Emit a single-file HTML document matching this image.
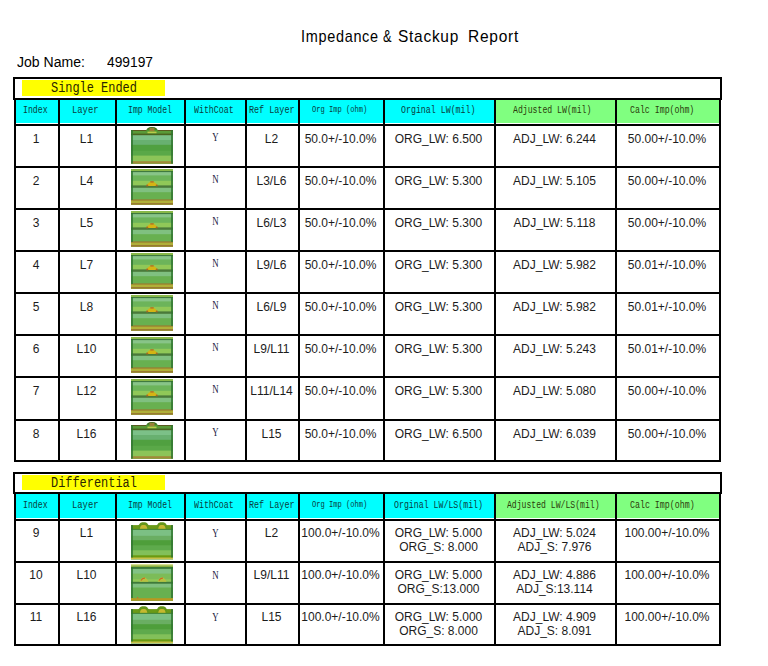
<!DOCTYPE html>
<html><head><meta charset="utf-8"><title>Impedance &amp; Stackup Report</title>
<style>
html,body{margin:0;padding:0;background:#fff;}
#pg{position:relative;width:768px;height:666px;overflow:hidden;background:#fff;}
.ln{position:absolute;}
.c{position:absolute;text-align:center;white-space:nowrap;font-family:"Liberation Sans",sans-serif;font-size:12px;line-height:14px;color:#1c1c1c;}
.yn{position:absolute;text-align:center;font-family:"Liberation Serif",serif;font-size:13px;line-height:12px;color:#202040;transform:scaleX(0.68);}
.ht{position:absolute;width:200px;text-align:center;white-space:nowrap;font-family:"Liberation Serif",serif;line-height:0;transform-origin:center;}
.lab{position:absolute;white-space:nowrap;font-family:"Liberation Serif",serif;font-size:14px;line-height:0;color:#3a3300;}
.ft{position:absolute;white-space:nowrap;line-height:20px;transform-origin:0 0;}
.title{position:absolute;white-space:nowrap;font-family:"Liberation Mono",monospace;font-size:14px;line-height:0;color:#000;}
.job{position:absolute;white-space:nowrap;font-family:"Liberation Sans",sans-serif;font-size:14px;line-height:0;color:#000;}
</style></head><body><div id="pg">
<div class="ln" style="left:13px;top:77px;width:709px;height:2px;background:#000"></div>
<div class="ln" style="left:13px;top:77px;width:2px;height:23px;background:#000"></div>
<div class="ln" style="left:720px;top:77px;width:2px;height:23px;background:#000"></div>
<div class="ln" style="left:22px;top:80px;width:143px;height:16px;background:#ffff00"></div>
<div class="ln" style="left:16px;top:100px;width:42px;height:23px;background:#00ffff"></div>
<div class="ln" style="left:60px;top:100px;width:55px;height:23px;background:#00ffff"></div>
<div class="ln" style="left:117px;top:100px;width:67px;height:23px;background:#00ffff"></div>
<div class="ln" style="left:186px;top:100px;width:59px;height:23px;background:#00ffff"></div>
<div class="ln" style="left:247px;top:100px;width:51px;height:23px;background:#00ffff"></div>
<div class="ln" style="left:300px;top:100px;width:83px;height:23px;background:#00ffff"></div>
<div class="ln" style="left:385px;top:100px;width:109px;height:23px;background:#00ffff"></div>
<div class="ln" style="left:496px;top:100px;width:119px;height:23px;background:#80ff80"></div>
<div class="ln" style="left:617px;top:100px;width:102px;height:23px;background:#80ff80"></div>
<div class="ln" style="left:14px;top:98px;width:707px;height:2px;background:#000"></div>
<div class="ln" style="left:14px;top:124px;width:707px;height:2px;background:#000"></div>
<div class="ln" style="left:14px;top:166px;width:707px;height:2px;background:#000"></div>
<div class="ln" style="left:14px;top:208px;width:707px;height:2px;background:#000"></div>
<div class="ln" style="left:14px;top:250px;width:707px;height:2px;background:#000"></div>
<div class="ln" style="left:14px;top:292px;width:707px;height:2px;background:#000"></div>
<div class="ln" style="left:14px;top:334px;width:707px;height:2px;background:#000"></div>
<div class="ln" style="left:14px;top:376px;width:707px;height:2px;background:#000"></div>
<div class="ln" style="left:14px;top:419px;width:707px;height:2px;background:#000"></div>
<div class="ln" style="left:14px;top:460px;width:707px;height:2px;background:#000"></div>
<div class="ln" style="left:14px;top:98px;width:2px;height:364px;background:#000"></div>
<div class="ln" style="left:58px;top:98px;width:2px;height:364px;background:#000"></div>
<div class="ln" style="left:115px;top:98px;width:2px;height:364px;background:#000"></div>
<div class="ln" style="left:184px;top:98px;width:2px;height:364px;background:#000"></div>
<div class="ln" style="left:245px;top:98px;width:2px;height:364px;background:#000"></div>
<div class="ln" style="left:298px;top:98px;width:2px;height:364px;background:#000"></div>
<div class="ln" style="left:383px;top:98px;width:2px;height:364px;background:#000"></div>
<div class="ln" style="left:494px;top:98px;width:2px;height:364px;background:#000"></div>
<div class="ln" style="left:615px;top:98px;width:2px;height:364px;background:#000"></div>
<div class="ln" style="left:719px;top:98px;width:2px;height:364px;background:#000"></div>
<div class="c" style="left:-5px;width:82px;top:132.04px">1</div>
<div class="c" style="left:39px;width:95px;top:132.04px">L1</div>
<div class="c" style="left:226px;width:91px;top:132.04px">L2</div>
<div class="c" style="left:279px;width:123px;top:132.04px">50.0+/-10.0%</div>
<div class="c" style="left:364px;width:149px;top:132.04px">ORG_LW: 6.500</div>
<div class="c" style="left:475px;width:159px;top:132.04px">ADJ_LW: 6.244</div>
<div class="c" style="left:596px;width:142px;top:132.04px">50.00+/-10.0%</div>
<div class="yn" style="left:186px;width:59px;top:131.20px">Y</div>
<div class="ln" style="left:131px;top:127px"><svg width="42" height="38" viewBox="0 0 42 38" style="display:block"><rect x="0" y="3" width="42" height="33.6" fill="#5a5a20"/><rect x="0" y="4" width="42" height="32.6" fill="#5a9a38"/><rect x="0" y="6.6" width="42" height="30.0" fill="#4a6420"/><rect x="0" y="8.2" width="42" height="28.400000000000002" fill="#7cc088"/><rect x="0" y="13" width="42" height="23.6" fill="#68b070"/><rect x="0" y="17.8" width="42" height="18.8" fill="#50a040"/><rect x="0" y="23.8" width="42" height="12.8" fill="#5aa848"/><rect x="0" y="28.6" width="42" height="8.0" fill="#8cc458"/><rect x="0" y="34.2" width="42" height="2.3999999999999986" fill="#a08a38"/><rect x="0" y="3" width="2" height="33.6" fill="#2f742f" opacity="0.8"/><rect x="40" y="3" width="2" height="33.6" fill="#2f742f" opacity="0.8"/><path d="M15 4.5 Q15.5 0 21 0 Q26.5 0 27 4.5 Z" fill="#4e9a30"/><path d="M15.6 2.5 Q17 0 21 0 Q25 0 26.4 2.5 Z" fill="#3a5a20" opacity="0.7"/><rect x="18.5" y="0.8" width="5" height="3.6" fill="#9a8038"/><rect x="16.5" y="4.6" width="9" height="1.6" fill="#b8cc48"/></svg></div>
<div class="c" style="left:-5px;width:82px;top:174.04px">2</div>
<div class="c" style="left:39px;width:95px;top:174.04px">L4</div>
<div class="c" style="left:226px;width:91px;top:174.04px">L3/L6</div>
<div class="c" style="left:279px;width:123px;top:174.04px">50.0+/-10.0%</div>
<div class="c" style="left:364px;width:149px;top:174.04px">ORG_LW: 5.300</div>
<div class="c" style="left:475px;width:159px;top:174.04px">ADJ_LW: 5.105</div>
<div class="c" style="left:596px;width:142px;top:174.04px">50.00+/-10.0%</div>
<div class="yn" style="left:186px;width:59px;top:173.20px">N</div>
<div class="ln" style="left:131px;top:169px"><svg width="42" height="38" viewBox="0 0 42 38" style="display:block"><rect x="0" y="0" width="42" height="35.5" fill="#88b848"/><rect x="0" y="2" width="42" height="33.5" fill="#3f7a3f"/><rect x="0" y="3.1" width="42" height="32.4" fill="#88c488"/><rect x="0" y="6.4" width="42" height="29.1" fill="#6cb45a"/><rect x="0" y="11.8" width="42" height="23.7" fill="#90c858"/><rect x="0" y="16.4" width="42" height="19.1" fill="#4a7a3a"/><rect x="0" y="18.8" width="42" height="16.7" fill="#80c080"/><rect x="0" y="23.2" width="42" height="12.3" fill="#68b050"/><rect x="0" y="30.4" width="42" height="5.100000000000001" fill="#9a7a30"/><rect x="0" y="31.6" width="42" height="3.8999999999999986" fill="#b0b038"/><rect x="0" y="34" width="42" height="1.5" fill="#9a7a30"/><rect x="0" y="2" width="2" height="29" fill="#2f742f" opacity="0.8"/><rect x="40" y="2" width="2" height="29" fill="#2f742f" opacity="0.8"/><path d="M15.3 17 Q17 13.2 21 12.6 Q25 13.2 26.7 17 Z" fill="#d4b414"/><ellipse cx="16.2" cy="16.4" rx="1.1" ry="1" fill="#a06a28"/><ellipse cx="25.8" cy="16.4" rx="1.1" ry="1" fill="#a06a28"/><ellipse cx="21" cy="12.9" rx="2.2" ry="0.8" fill="#b07a28"/></svg></div>
<div class="c" style="left:-5px;width:82px;top:216.04px">3</div>
<div class="c" style="left:39px;width:95px;top:216.04px">L5</div>
<div class="c" style="left:226px;width:91px;top:216.04px">L6/L3</div>
<div class="c" style="left:279px;width:123px;top:216.04px">50.0+/-10.0%</div>
<div class="c" style="left:364px;width:149px;top:216.04px">ORG_LW: 5.300</div>
<div class="c" style="left:475px;width:159px;top:216.04px">ADJ_LW: 5.118</div>
<div class="c" style="left:596px;width:142px;top:216.04px">50.00+/-10.0%</div>
<div class="yn" style="left:186px;width:59px;top:215.20px">N</div>
<div class="ln" style="left:131px;top:211px"><svg width="42" height="38" viewBox="0 0 42 38" style="display:block"><rect x="0" y="0" width="42" height="35.5" fill="#88b848"/><rect x="0" y="2" width="42" height="33.5" fill="#3f7a3f"/><rect x="0" y="3.1" width="42" height="32.4" fill="#88c488"/><rect x="0" y="6.4" width="42" height="29.1" fill="#6cb45a"/><rect x="0" y="11.8" width="42" height="23.7" fill="#90c858"/><rect x="0" y="16.4" width="42" height="19.1" fill="#4a7a3a"/><rect x="0" y="18.8" width="42" height="16.7" fill="#80c080"/><rect x="0" y="23.2" width="42" height="12.3" fill="#68b050"/><rect x="0" y="30.4" width="42" height="5.100000000000001" fill="#9a7a30"/><rect x="0" y="31.6" width="42" height="3.8999999999999986" fill="#b0b038"/><rect x="0" y="34" width="42" height="1.5" fill="#9a7a30"/><rect x="0" y="2" width="2" height="29" fill="#2f742f" opacity="0.8"/><rect x="40" y="2" width="2" height="29" fill="#2f742f" opacity="0.8"/><path d="M15.3 17 Q17 13.2 21 12.6 Q25 13.2 26.7 17 Z" fill="#d4b414"/><ellipse cx="16.2" cy="16.4" rx="1.1" ry="1" fill="#a06a28"/><ellipse cx="25.8" cy="16.4" rx="1.1" ry="1" fill="#a06a28"/><ellipse cx="21" cy="12.9" rx="2.2" ry="0.8" fill="#b07a28"/></svg></div>
<div class="c" style="left:-5px;width:82px;top:258.04px">4</div>
<div class="c" style="left:39px;width:95px;top:258.04px">L7</div>
<div class="c" style="left:226px;width:91px;top:258.04px">L9/L6</div>
<div class="c" style="left:279px;width:123px;top:258.04px">50.0+/-10.0%</div>
<div class="c" style="left:364px;width:149px;top:258.04px">ORG_LW: 5.300</div>
<div class="c" style="left:475px;width:159px;top:258.04px">ADJ_LW: 5.982</div>
<div class="c" style="left:596px;width:142px;top:258.04px">50.01+/-10.0%</div>
<div class="yn" style="left:186px;width:59px;top:257.20px">N</div>
<div class="ln" style="left:131px;top:253px"><svg width="42" height="38" viewBox="0 0 42 38" style="display:block"><rect x="0" y="0" width="42" height="35.5" fill="#88b848"/><rect x="0" y="2" width="42" height="33.5" fill="#3f7a3f"/><rect x="0" y="3.1" width="42" height="32.4" fill="#88c488"/><rect x="0" y="6.4" width="42" height="29.1" fill="#6cb45a"/><rect x="0" y="11.8" width="42" height="23.7" fill="#90c858"/><rect x="0" y="16.4" width="42" height="19.1" fill="#4a7a3a"/><rect x="0" y="18.8" width="42" height="16.7" fill="#80c080"/><rect x="0" y="23.2" width="42" height="12.3" fill="#68b050"/><rect x="0" y="30.4" width="42" height="5.100000000000001" fill="#9a7a30"/><rect x="0" y="31.6" width="42" height="3.8999999999999986" fill="#b0b038"/><rect x="0" y="34" width="42" height="1.5" fill="#9a7a30"/><rect x="0" y="2" width="2" height="29" fill="#2f742f" opacity="0.8"/><rect x="40" y="2" width="2" height="29" fill="#2f742f" opacity="0.8"/><path d="M15.3 17 Q17 13.2 21 12.6 Q25 13.2 26.7 17 Z" fill="#d4b414"/><ellipse cx="16.2" cy="16.4" rx="1.1" ry="1" fill="#a06a28"/><ellipse cx="25.8" cy="16.4" rx="1.1" ry="1" fill="#a06a28"/><ellipse cx="21" cy="12.9" rx="2.2" ry="0.8" fill="#b07a28"/></svg></div>
<div class="c" style="left:-5px;width:82px;top:300.04px">5</div>
<div class="c" style="left:39px;width:95px;top:300.04px">L8</div>
<div class="c" style="left:226px;width:91px;top:300.04px">L6/L9</div>
<div class="c" style="left:279px;width:123px;top:300.04px">50.0+/-10.0%</div>
<div class="c" style="left:364px;width:149px;top:300.04px">ORG_LW: 5.300</div>
<div class="c" style="left:475px;width:159px;top:300.04px">ADJ_LW: 5.982</div>
<div class="c" style="left:596px;width:142px;top:300.04px">50.01+/-10.0%</div>
<div class="yn" style="left:186px;width:59px;top:299.20px">N</div>
<div class="ln" style="left:131px;top:295px"><svg width="42" height="38" viewBox="0 0 42 38" style="display:block"><rect x="0" y="0" width="42" height="35.5" fill="#88b848"/><rect x="0" y="2" width="42" height="33.5" fill="#3f7a3f"/><rect x="0" y="3.1" width="42" height="32.4" fill="#88c488"/><rect x="0" y="6.4" width="42" height="29.1" fill="#6cb45a"/><rect x="0" y="11.8" width="42" height="23.7" fill="#90c858"/><rect x="0" y="16.4" width="42" height="19.1" fill="#4a7a3a"/><rect x="0" y="18.8" width="42" height="16.7" fill="#80c080"/><rect x="0" y="23.2" width="42" height="12.3" fill="#68b050"/><rect x="0" y="30.4" width="42" height="5.100000000000001" fill="#9a7a30"/><rect x="0" y="31.6" width="42" height="3.8999999999999986" fill="#b0b038"/><rect x="0" y="34" width="42" height="1.5" fill="#9a7a30"/><rect x="0" y="2" width="2" height="29" fill="#2f742f" opacity="0.8"/><rect x="40" y="2" width="2" height="29" fill="#2f742f" opacity="0.8"/><path d="M15.3 17 Q17 13.2 21 12.6 Q25 13.2 26.7 17 Z" fill="#d4b414"/><ellipse cx="16.2" cy="16.4" rx="1.1" ry="1" fill="#a06a28"/><ellipse cx="25.8" cy="16.4" rx="1.1" ry="1" fill="#a06a28"/><ellipse cx="21" cy="12.9" rx="2.2" ry="0.8" fill="#b07a28"/></svg></div>
<div class="c" style="left:-5px;width:82px;top:342.04px">6</div>
<div class="c" style="left:39px;width:95px;top:342.04px">L10</div>
<div class="c" style="left:226px;width:91px;top:342.04px">L9/L11</div>
<div class="c" style="left:279px;width:123px;top:342.04px">50.0+/-10.0%</div>
<div class="c" style="left:364px;width:149px;top:342.04px">ORG_LW: 5.300</div>
<div class="c" style="left:475px;width:159px;top:342.04px">ADJ_LW: 5.243</div>
<div class="c" style="left:596px;width:142px;top:342.04px">50.01+/-10.0%</div>
<div class="yn" style="left:186px;width:59px;top:341.20px">N</div>
<div class="ln" style="left:131px;top:337px"><svg width="42" height="38" viewBox="0 0 42 38" style="display:block"><rect x="0" y="0" width="42" height="35.5" fill="#88b848"/><rect x="0" y="2" width="42" height="33.5" fill="#3f7a3f"/><rect x="0" y="3.1" width="42" height="32.4" fill="#88c488"/><rect x="0" y="6.4" width="42" height="29.1" fill="#6cb45a"/><rect x="0" y="11.8" width="42" height="23.7" fill="#90c858"/><rect x="0" y="16.4" width="42" height="19.1" fill="#4a7a3a"/><rect x="0" y="18.8" width="42" height="16.7" fill="#80c080"/><rect x="0" y="23.2" width="42" height="12.3" fill="#68b050"/><rect x="0" y="30.4" width="42" height="5.100000000000001" fill="#9a7a30"/><rect x="0" y="31.6" width="42" height="3.8999999999999986" fill="#b0b038"/><rect x="0" y="34" width="42" height="1.5" fill="#9a7a30"/><rect x="0" y="2" width="2" height="29" fill="#2f742f" opacity="0.8"/><rect x="40" y="2" width="2" height="29" fill="#2f742f" opacity="0.8"/><path d="M15.3 17 Q17 13.2 21 12.6 Q25 13.2 26.7 17 Z" fill="#d4b414"/><ellipse cx="16.2" cy="16.4" rx="1.1" ry="1" fill="#a06a28"/><ellipse cx="25.8" cy="16.4" rx="1.1" ry="1" fill="#a06a28"/><ellipse cx="21" cy="12.9" rx="2.2" ry="0.8" fill="#b07a28"/></svg></div>
<div class="c" style="left:-5px;width:82px;top:384.04px">7</div>
<div class="c" style="left:39px;width:95px;top:384.04px">L12</div>
<div class="c" style="left:226px;width:91px;top:384.04px">L11/L14</div>
<div class="c" style="left:279px;width:123px;top:384.04px">50.0+/-10.0%</div>
<div class="c" style="left:364px;width:149px;top:384.04px">ORG_LW: 5.300</div>
<div class="c" style="left:475px;width:159px;top:384.04px">ADJ_LW: 5.080</div>
<div class="c" style="left:596px;width:142px;top:384.04px">50.00+/-10.0%</div>
<div class="yn" style="left:186px;width:59px;top:383.20px">N</div>
<div class="ln" style="left:131px;top:379px"><svg width="42" height="38" viewBox="0 0 42 38" style="display:block"><rect x="0" y="0" width="42" height="35.5" fill="#88b848"/><rect x="0" y="2" width="42" height="33.5" fill="#3f7a3f"/><rect x="0" y="3.1" width="42" height="32.4" fill="#88c488"/><rect x="0" y="6.4" width="42" height="29.1" fill="#6cb45a"/><rect x="0" y="11.8" width="42" height="23.7" fill="#90c858"/><rect x="0" y="16.4" width="42" height="19.1" fill="#4a7a3a"/><rect x="0" y="18.8" width="42" height="16.7" fill="#80c080"/><rect x="0" y="23.2" width="42" height="12.3" fill="#68b050"/><rect x="0" y="30.4" width="42" height="5.100000000000001" fill="#9a7a30"/><rect x="0" y="31.6" width="42" height="3.8999999999999986" fill="#b0b038"/><rect x="0" y="34" width="42" height="1.5" fill="#9a7a30"/><rect x="0" y="2" width="2" height="29" fill="#2f742f" opacity="0.8"/><rect x="40" y="2" width="2" height="29" fill="#2f742f" opacity="0.8"/><path d="M15.3 17 Q17 13.2 21 12.6 Q25 13.2 26.7 17 Z" fill="#d4b414"/><ellipse cx="16.2" cy="16.4" rx="1.1" ry="1" fill="#a06a28"/><ellipse cx="25.8" cy="16.4" rx="1.1" ry="1" fill="#a06a28"/><ellipse cx="21" cy="12.9" rx="2.2" ry="0.8" fill="#b07a28"/></svg></div>
<div class="c" style="left:-5px;width:82px;top:427.04px">8</div>
<div class="c" style="left:39px;width:95px;top:427.04px">L16</div>
<div class="c" style="left:226px;width:91px;top:427.04px">L15</div>
<div class="c" style="left:279px;width:123px;top:427.04px">50.0+/-10.0%</div>
<div class="c" style="left:364px;width:149px;top:427.04px">ORG_LW: 6.500</div>
<div class="c" style="left:475px;width:159px;top:427.04px">ADJ_LW: 6.039</div>
<div class="c" style="left:596px;width:142px;top:427.04px">50.00+/-10.0%</div>
<div class="yn" style="left:186px;width:59px;top:426.20px">Y</div>
<div class="ln" style="left:131px;top:422px"><svg width="42" height="38" viewBox="0 0 42 38" style="display:block"><rect x="0" y="3" width="42" height="33.6" fill="#5a5a20"/><rect x="0" y="4" width="42" height="32.6" fill="#5a9a38"/><rect x="0" y="6.6" width="42" height="30.0" fill="#4a6420"/><rect x="0" y="8.2" width="42" height="28.400000000000002" fill="#7cc088"/><rect x="0" y="13" width="42" height="23.6" fill="#68b070"/><rect x="0" y="17.8" width="42" height="18.8" fill="#50a040"/><rect x="0" y="23.8" width="42" height="12.8" fill="#5aa848"/><rect x="0" y="28.6" width="42" height="8.0" fill="#8cc458"/><rect x="0" y="34.2" width="42" height="2.3999999999999986" fill="#a08a38"/><rect x="0" y="3" width="2" height="33.6" fill="#2f742f" opacity="0.8"/><rect x="40" y="3" width="2" height="33.6" fill="#2f742f" opacity="0.8"/><path d="M15 4.5 Q15.5 0 21 0 Q26.5 0 27 4.5 Z" fill="#4e9a30"/><path d="M15.6 2.5 Q17 0 21 0 Q25 0 26.4 2.5 Z" fill="#3a5a20" opacity="0.7"/><rect x="18.5" y="0.8" width="5" height="3.6" fill="#9a8038"/><rect x="16.5" y="4.6" width="9" height="1.6" fill="#b8cc48"/></svg></div>
<div class="ln" style="left:13px;top:472px;width:709px;height:2px;background:#000"></div>
<div class="ln" style="left:13px;top:472px;width:2px;height:22px;background:#000"></div>
<div class="ln" style="left:720px;top:472px;width:2px;height:22px;background:#000"></div>
<div class="ln" style="left:22px;top:475px;width:143px;height:15px;background:#ffff00"></div>
<div class="ln" style="left:16px;top:494px;width:42px;height:24px;background:#00ffff"></div>
<div class="ln" style="left:60px;top:494px;width:55px;height:24px;background:#00ffff"></div>
<div class="ln" style="left:117px;top:494px;width:67px;height:24px;background:#00ffff"></div>
<div class="ln" style="left:186px;top:494px;width:59px;height:24px;background:#00ffff"></div>
<div class="ln" style="left:247px;top:494px;width:51px;height:24px;background:#00ffff"></div>
<div class="ln" style="left:300px;top:494px;width:83px;height:24px;background:#00ffff"></div>
<div class="ln" style="left:385px;top:494px;width:109px;height:24px;background:#00ffff"></div>
<div class="ln" style="left:496px;top:494px;width:119px;height:24px;background:#80ff80"></div>
<div class="ln" style="left:617px;top:494px;width:102px;height:24px;background:#80ff80"></div>
<div class="ln" style="left:14px;top:492px;width:707px;height:2px;background:#000"></div>
<div class="ln" style="left:14px;top:519px;width:707px;height:2px;background:#000"></div>
<div class="ln" style="left:14px;top:561px;width:707px;height:2px;background:#000"></div>
<div class="ln" style="left:14px;top:603px;width:707px;height:2px;background:#000"></div>
<div class="ln" style="left:14px;top:644px;width:707px;height:2px;background:#000"></div>
<div class="ln" style="left:14px;top:492px;width:2px;height:154px;background:#000"></div>
<div class="ln" style="left:58px;top:492px;width:2px;height:154px;background:#000"></div>
<div class="ln" style="left:115px;top:492px;width:2px;height:154px;background:#000"></div>
<div class="ln" style="left:184px;top:492px;width:2px;height:154px;background:#000"></div>
<div class="ln" style="left:245px;top:492px;width:2px;height:154px;background:#000"></div>
<div class="ln" style="left:298px;top:492px;width:2px;height:154px;background:#000"></div>
<div class="ln" style="left:383px;top:492px;width:2px;height:154px;background:#000"></div>
<div class="ln" style="left:494px;top:492px;width:2px;height:154px;background:#000"></div>
<div class="ln" style="left:615px;top:492px;width:2px;height:154px;background:#000"></div>
<div class="ln" style="left:719px;top:492px;width:2px;height:154px;background:#000"></div>
<div class="c" style="left:-5px;width:82px;top:526.04px">9</div>
<div class="c" style="left:39px;width:95px;top:526.04px">L1</div>
<div class="c" style="left:226px;width:91px;top:526.04px">L2</div>
<div class="c" style="left:279px;width:123px;top:526.04px">100.0+/-10.0%</div>
<div class="c" style="left:364px;width:149px;top:526.04px">ORG_LW: 5.000<br>ORG_S: 8.000</div>
<div class="c" style="left:475px;width:159px;top:526.04px">ADJ_LW: 5.024<br>ADJ_S: 7.976</div>
<div class="c" style="left:596px;width:142px;top:526.04px">100.00+/-10.0%</div>
<div class="yn" style="left:186px;width:59px;top:527.20px">Y</div>
<div class="ln" style="left:131px;top:522px"><svg width="42" height="38" viewBox="0 0 42 38" style="display:block"><rect x="0" y="3.1" width="42" height="34.0" fill="#6a9a18"/><rect x="0" y="6.9" width="42" height="30.200000000000003" fill="#3a7a2a"/><rect x="0" y="7.8" width="42" height="29.3" fill="#7cc084"/><rect x="0" y="13.8" width="42" height="23.3" fill="#6aae62"/><rect x="0" y="18.2" width="42" height="18.900000000000002" fill="#4e9e3a"/><rect x="0" y="23.3" width="42" height="13.8" fill="#5eaa4c"/><rect x="0" y="28.3" width="42" height="8.8" fill="#82c05a"/><rect x="0" y="33.3" width="42" height="3.8000000000000043" fill="#6a9a10"/><rect x="0" y="35.5" width="42" height="1.6000000000000014" fill="#c8c048"/><rect x="0" y="3.1" width="2" height="32.4" fill="#2f742f" opacity="0.8"/><rect x="40" y="3.1" width="2" height="32.4" fill="#2f742f" opacity="0.8"/><path d="M7.6 7 L7.6 3.2 Q9.1 0.2 11.1 0.2 L14.1 0.2 Q16.1 0.2 17.6 3.2 L17.6 7 Z" fill="#64961a"/><path d="M8.9 6.8 Q9.4 3 11.6 3 L13.6 3 Q15.799999999999999 3 16.299999999999997 6.8 Z" fill="#c4b830"/><path d="M25.9 7 L25.9 3.2 Q27.4 0.2 29.4 0.2 L32.4 0.2 Q34.4 0.2 35.9 3.2 L35.9 7 Z" fill="#64961a"/><path d="M27.2 6.8 Q27.7 3 29.9 3 L31.9 3 Q34.099999999999994 3 34.599999999999994 6.8 Z" fill="#c4b830"/></svg></div>
<div class="c" style="left:-5px;width:82px;top:568.04px">10</div>
<div class="c" style="left:39px;width:95px;top:568.04px">L10</div>
<div class="c" style="left:226px;width:91px;top:568.04px">L9/L11</div>
<div class="c" style="left:279px;width:123px;top:568.04px">100.0+/-10.0%</div>
<div class="c" style="left:364px;width:149px;top:568.04px">ORG_LW: 5.000<br>ORG_S:13.000</div>
<div class="c" style="left:475px;width:159px;top:568.04px">ADJ_LW: 4.886<br>ADJ_S:13.114</div>
<div class="c" style="left:596px;width:142px;top:568.04px">100.00+/-10.0%</div>
<div class="yn" style="left:186px;width:59px;top:569.20px">N</div>
<div class="ln" style="left:131px;top:564px"><svg width="42" height="38" viewBox="0 0 42 38" style="display:block"><rect x="0" y="0" width="42" height="36.7" fill="#d8e090"/><rect x="0" y="1.4" width="42" height="35.300000000000004" fill="#8ab040"/><rect x="0" y="3" width="42" height="33.7" fill="#3a7a3a"/><rect x="0" y="4.9" width="42" height="31.800000000000004" fill="#82c284"/><rect x="0" y="9.6" width="42" height="27.1" fill="#7cbc58"/><rect x="0" y="15.3" width="42" height="21.400000000000002" fill="#90c858"/><rect x="0" y="17.8" width="42" height="18.900000000000002" fill="#3f7a3a"/><rect x="0" y="19.7" width="42" height="17.000000000000004" fill="#80c080"/><rect x="0" y="23.5" width="42" height="13.200000000000003" fill="#68b050"/><rect x="0" y="34.2" width="42" height="2.5" fill="#b89820"/><rect x="0" y="3" width="2" height="31" fill="#2f742f" opacity="0.8"/><rect x="40" y="3" width="2" height="31" fill="#2f742f" opacity="0.8"/><path d="M8.5 17.8 Q10.0 13.8 13.0 13.6 Q16.0 13.8 17.5 17.8 Z" fill="#b8c040"/><path d="M10.0 16.5 Q11.5 13.8 14.0 14.2" fill="none" stroke="#c86a20" stroke-width="1.1"/><path d="M26.5 17.8 Q28.0 13.8 31.0 13.6 Q34.0 13.8 35.5 17.8 Z" fill="#b8c040"/><path d="M28.0 16.5 Q29.5 13.8 32.0 14.2" fill="none" stroke="#c86a20" stroke-width="1.1"/><rect x="6" y="33" width="1.2" height="1.2" fill="#c07030"/></svg></div>
<div class="c" style="left:-5px;width:82px;top:610.04px">11</div>
<div class="c" style="left:39px;width:95px;top:610.04px">L16</div>
<div class="c" style="left:226px;width:91px;top:610.04px">L15</div>
<div class="c" style="left:279px;width:123px;top:610.04px">100.0+/-10.0%</div>
<div class="c" style="left:364px;width:149px;top:610.04px">ORG_LW: 5.000<br>ORG_S: 8.000</div>
<div class="c" style="left:475px;width:159px;top:610.04px">ADJ_LW: 4.909<br>ADJ_S: 8.091</div>
<div class="c" style="left:596px;width:142px;top:610.04px">100.00+/-10.0%</div>
<div class="yn" style="left:186px;width:59px;top:611.20px">Y</div>
<div class="ln" style="left:131px;top:606px"><svg width="42" height="38" viewBox="0 0 42 38" style="display:block"><rect x="0" y="3.1" width="42" height="34.0" fill="#6a9a18"/><rect x="0" y="6.9" width="42" height="30.200000000000003" fill="#3a7a2a"/><rect x="0" y="7.8" width="42" height="29.3" fill="#7cc084"/><rect x="0" y="13.8" width="42" height="23.3" fill="#6aae62"/><rect x="0" y="18.2" width="42" height="18.900000000000002" fill="#4e9e3a"/><rect x="0" y="23.3" width="42" height="13.8" fill="#5eaa4c"/><rect x="0" y="28.3" width="42" height="8.8" fill="#82c05a"/><rect x="0" y="33.3" width="42" height="3.8000000000000043" fill="#6a9a10"/><rect x="0" y="35.5" width="42" height="1.6000000000000014" fill="#c8c048"/><rect x="0" y="3.1" width="2" height="32.4" fill="#2f742f" opacity="0.8"/><rect x="40" y="3.1" width="2" height="32.4" fill="#2f742f" opacity="0.8"/><path d="M7.6 7 L7.6 3.2 Q9.1 0.2 11.1 0.2 L14.1 0.2 Q16.1 0.2 17.6 3.2 L17.6 7 Z" fill="#64961a"/><path d="M8.9 6.8 Q9.4 3 11.6 3 L13.6 3 Q15.799999999999999 3 16.299999999999997 6.8 Z" fill="#c4b830"/><path d="M25.9 7 L25.9 3.2 Q27.4 0.2 29.4 0.2 L32.4 0.2 Q34.4 0.2 35.9 3.2 L35.9 7 Z" fill="#64961a"/><path d="M27.2 6.8 Q27.7 3 29.9 3 L31.9 3 Q34.099999999999994 3 34.599999999999994 6.8 Z" fill="#c4b830"/></svg></div>
<div class="ft" style="left:300.62px;top:26.00px;transform:scaleX(0.8808);font-family:'Liberation Sans',sans-serif;font-size:16.4px;letter-spacing:0.8px;color:#000">Impedance</div>
<div class="ft" style="left:382.72px;top:26.00px;transform:scaleX(0.7800);font-family:'Liberation Sans',sans-serif;font-size:16.4px;letter-spacing:0.8px;color:#000">&amp;</div>
<div class="ft" style="left:398.06px;top:26.00px;transform:scaleX(0.9413);font-family:'Liberation Sans',sans-serif;font-size:16.4px;letter-spacing:0.8px;color:#000">Stackup</div>
<div class="ft" style="left:467.55px;top:26.00px;transform:scaleX(0.9462);font-family:'Liberation Sans',sans-serif;font-size:16.4px;letter-spacing:0.8px;color:#000">Report</div>
<div class="ft" style="left:16.90px;top:51.80px;transform:scaleX(1.0030);font-family:'Liberation Sans',sans-serif;font-size:14px;color:#000">Job Name:</div>
<div class="ft" style="left:107.30px;top:51.60px;transform:scaleX(0.9848);font-family:'Liberation Sans',sans-serif;font-size:14px;color:#000">499197</div>
<div class="ft" style="left:50.65px;top:78.00px;transform:scaleX(0.8515);font-family:'Liberation Mono',monospace;font-size:14px;color:#2a2600">Single Ended</div>
<div class="ft" style="left:50.65px;top:472.80px;transform:scaleX(0.8515);font-family:'Liberation Mono',monospace;font-size:14px;color:#2a2600">Differential</div>
<div class="ft" style="left:23.15px;top:99.70px;transform:scaleX(0.7452);font-family:'Liberation Mono',monospace;font-size:11px;color:#0a3c3c">Index</div>
<div class="ft" style="left:72.30px;top:99.70px;transform:scaleX(0.8032);font-family:'Liberation Mono',monospace;font-size:11px;color:#0a3c3c">Layer</div>
<div class="ft" style="left:128.01px;top:99.70px;transform:scaleX(0.7388);font-family:'Liberation Mono',monospace;font-size:11px;color:#0a3c3c">Imp Model</div>
<div class="ft" style="left:194.25px;top:99.70px;transform:scaleX(0.7500);font-family:'Liberation Mono',monospace;font-size:11px;color:#0a3c3c">WithCoat</div>
<div class="ft" style="left:248.63px;top:99.70px;transform:scaleX(0.7667);font-family:'Liberation Mono',monospace;font-size:11px;color:#0a3c3c">Ref Layer</div>
<div class="ft" style="left:312.45px;top:99.90px;transform:scaleX(0.7472);font-family:'Liberation Mono',monospace;font-size:9.5px;color:#0a3c3c">Org Imp (ohm)</div>
<div class="ft" style="left:401.25px;top:99.70px;transform:scaleX(0.7521);font-family:'Liberation Mono',monospace;font-size:11px;color:#0a3c3c">Orginal LW(mil)</div>
<div class="ft" style="left:513.30px;top:99.70px;transform:scaleX(0.7423);font-family:'Liberation Mono',monospace;font-size:11px;color:#2c3c0c">Adjusted LW(mil)</div>
<div class="ft" style="left:630.15px;top:99.70px;transform:scaleX(0.7494);font-family:'Liberation Mono',monospace;font-size:11px;color:#2c3c0c">Calc Imp(ohm)</div>
<div class="ft" style="left:23.15px;top:495.00px;transform:scaleX(0.7452);font-family:'Liberation Mono',monospace;font-size:11px;color:#0a3c3c">Index</div>
<div class="ft" style="left:72.30px;top:495.00px;transform:scaleX(0.8032);font-family:'Liberation Mono',monospace;font-size:11px;color:#0a3c3c">Layer</div>
<div class="ft" style="left:128.01px;top:495.00px;transform:scaleX(0.7388);font-family:'Liberation Mono',monospace;font-size:11px;color:#0a3c3c">Imp Model</div>
<div class="ft" style="left:194.25px;top:495.00px;transform:scaleX(0.7500);font-family:'Liberation Mono',monospace;font-size:11px;color:#0a3c3c">WithCoat</div>
<div class="ft" style="left:248.63px;top:495.00px;transform:scaleX(0.7667);font-family:'Liberation Mono',monospace;font-size:11px;color:#0a3c3c">Ref Layer</div>
<div class="ft" style="left:312.45px;top:495.20px;transform:scaleX(0.7472);font-family:'Liberation Mono',monospace;font-size:9.5px;color:#0a3c3c">Org Imp (ohm)</div>
<div class="ft" style="left:394.15px;top:495.00px;transform:scaleX(0.7491);font-family:'Liberation Mono',monospace;font-size:11px;color:#0a3c3c">Orginal LW/LS(mil)</div>
<div class="ft" style="left:506.60px;top:495.00px;transform:scaleX(0.7379);font-family:'Liberation Mono',monospace;font-size:11px;color:#2c3c0c">Adjusted LW/LS(mil)</div>
<div class="ft" style="left:630.15px;top:495.00px;transform:scaleX(0.7530);font-family:'Liberation Mono',monospace;font-size:11px;color:#2c3c0c">Calc Imp(ohm)</div>
</div></body></html>
